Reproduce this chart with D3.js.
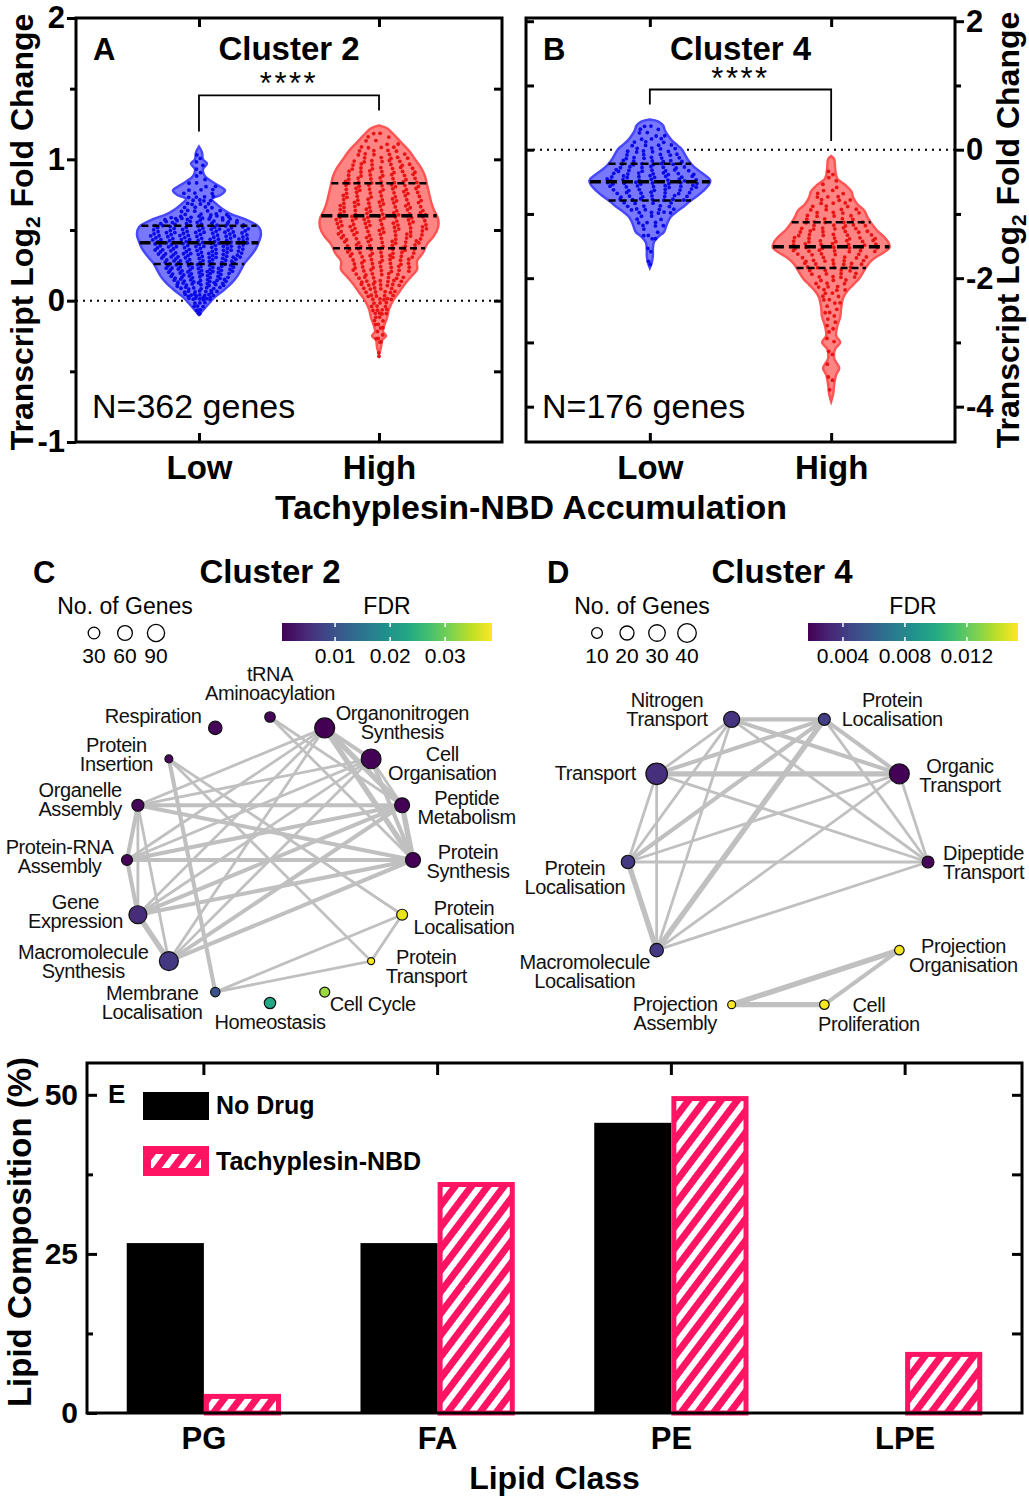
<!DOCTYPE html>
<html>
<head>
<meta charset="utf-8">
<script src="https://cdnjs.cloudflare.com/ajax/libs/d3/7.8.5/d3.min.js"></script>
<style>
  body { margin: 0; background: #fff; }
  svg { display: block; font-family: "Liberation Sans", Arial, sans-serif; }
</style>
</head>
<body>
<div id="fig"></div>
<script>
// ---------- data ----------
const groups = ["Low", "High"];

// violin outlines: [log2 fold change, density (a.u.)]
const c2LowOutline = [[1.09,0],[1.05,3],[1.0,4],[0.97,8],[0.93,4],[0.88,6],[0.82,18],[0.78,26],[0.75,22],[0.72,13],[0.68,18],[0.62,30],[0.57,48],[0.52,60],[0.47,62],[0.42,60],[0.37,57],[0.32,52],[0.27,46],[0.22,42],[0.17,38],[0.12,32],[0.07,24],[0.02,15],[-0.02,10],[-0.06,5],[-0.1,0]];
const c2HighOutline = [[1.24,0],[1.22,8],[1.18,14],[1.12,22],[1.06,30],[1.0,36],[0.94,42],[0.88,46],[0.82,48],[0.76,50],[0.7,52],[0.64,55],[0.58,59],[0.52,59],[0.46,55],[0.4,48],[0.34,44],[0.28,38],[0.22,38],[0.17,32],[0.12,26],[0.06,20],[0.0,14],[-0.06,10],[-0.12,8],[-0.18,5],[-0.22,4],[-0.25,7],[-0.28,3],[-0.33,2],[-0.38,0]];
const c4LowOutline = [[0.47,0],[0.44,8],[0.38,13],[0.3,15],[0.22,18],[0.14,22],[0.06,28],[0.0,32],[-0.08,35],[-0.16,38],[-0.24,42],[-0.32,48],[-0.4,55],[-0.48,60],[-0.56,58],[-0.64,53],[-0.72,47],[-0.8,40],[-0.88,34],[-0.96,27],[-1.04,21],[-1.12,18],[-1.2,16],[-1.28,14],[-1.36,8],[-1.44,4],[-1.55,3],[-1.65,3],[-1.75,2],[-1.84,0]];
const c4HighOutline = [[-0.1,0],[-0.15,3],[-0.3,4],[-0.45,6],[-0.55,14],[-0.65,20],[-0.75,22],[-0.85,26],[-0.95,33],[-1.05,36],[-1.15,40],[-1.25,45],[-1.35,52],[-1.45,57],[-1.52,58],[-1.6,52],[-1.7,42],[-1.8,36],[-1.9,32],[-2.0,28],[-2.1,22],[-2.2,16],[-2.3,12],[-2.45,10],[-2.6,9],[-2.75,6],[-2.9,5],[-3.0,9],[-3.1,4],[-3.25,3],[-3.4,8],[-3.5,5],[-3.65,3],[-3.8,2],[-3.92,0]];

// gene counts per bin: [bin centre, genes]
const c2LowBins = [[1.05,2],[0.95,4],[0.85,6],[0.75,14],[0.65,18],[0.55,52],[0.45,62],[0.35,60],[0.25,52],[0.15,46],[0.05,34],[-0.05,12]];
const c2HighBins = [[1.15,8],[1.05,18],[0.95,26],[0.85,30],[0.75,32],[0.65,36],[0.55,40],[0.45,36],[0.35,32],[0.25,28],[0.15,26],[0.05,20],[-0.05,14],[-0.15,8],[-0.25,6],[-0.35,2]];
const c4LowBins = [[0.3,8],[0.1,14],[-0.1,22],[-0.3,30],[-0.5,36],[-0.7,28],[-0.9,18],[-1.1,10],[-1.3,6],[-1.5,2],[-1.7,2]];
const c4HighBins = [[-0.3,2],[-0.5,4],[-0.7,10],[-0.9,14],[-1.1,18],[-1.3,24],[-1.5,28],[-1.7,22],[-1.9,16],[-2.1,12],[-2.3,8],[-2.5,5],[-2.7,4],[-2.9,3],[-3.1,2],[-3.3,1],[-3.5,2],[-3.7,1]];

// quartiles [Q1, median, Q3]
const c2LowQuart = [0.26, 0.41, 0.53];
const c2HighQuart = [0.37, 0.60, 0.83];
const c4LowQuart = [-0.79, -0.50, -0.22];
const c4HighQuart = [-1.84, -1.51, -1.13];

// enrichment networks (circular order, clockwise)
const c2Terms = ["tRNA|Aminoacylation","Organonitrogen|Synthesis","Cell|Organisation","Peptide|Metabolism","Protein|Synthesis","Protein|Localisation","Protein|Transport","Cell Cycle","Homeostasis","Membrane|Localisation","Macromolecule|Synthesis","Gene|Expression","Protein-RNA|Assembly","Organelle|Assembly","Protein|Insertion","Respiration"];
const c2Genes = [22,132,128,62,62,25,5,19,28,15,116,101,25,33,8,46];
const c2FDR = [0.0008,0.0005,0.0006,0.0006,0.0006,0.0373,0.0383,0.0328,0.0232,0.0099,0.0065,0.005,0.0008,0.001,0.001,0.0009];
const c2Edges = [[0,3,1],[0,4,1],[1,2,2],[1,3,3],[1,4,3],[1,13,1],[1,11,1],[1,10,1],[1,12,1],[2,3,1],[2,4,2],[2,13,1],[2,11,1],[2,10,1],[2,12,1],[3,4,3],[3,13,2],[3,12,2],[3,11,2],[3,10,2],[4,13,2],[4,12,2],[4,11,2],[4,10,2],[5,6,1],[5,9,1],[6,9,1],[5,14,1],[6,14,1],[9,14,2],[11,10,3],[11,13,1],[11,12,2],[13,12,2],[13,10,1]];

const c4Terms = ["Protein|Localisation","Organic|Transport","Dipeptide|Transport","Projection|Organisation","Cell|Proliferation","Projection|Assembly","Macromolecule|Localisation","Protein|Localisation","Transport","Nitrogen|Transport"];
const c4Genes = [13,47,13,7,7,4,18,18,56,28];
const c4FDR = [0.0042,0.0018,0.002,0.0151,0.0152,0.0153,0.004,0.004,0.0036,0.0038];
const c4Edges = [[9,0,2],[9,8,1],[9,1,2],[9,2,1],[9,7,1],[9,6,1],[0,8,2],[0,1,2],[0,2,1],[0,7,2],[0,6,3],[8,1,3],[8,2,1],[8,7,1],[8,6,1],[1,7,1],[1,6,1],[1,2,1],[7,2,1],[7,6,3],[2,6,1],[5,3,3],[5,4,3],[4,3,2]];

// lipid composition (%)
const lipidClasses = ["PG", "FA", "PE", "LPE"];
const treatments = ["No Drug", "Tachyplesin-NBD"];
const noDrug = [26.7, 26.7, 45.6, 0];
const tachyNBD = [3.0, 36.3, 49.8, 9.6];

// ---------- setup ----------
const pink = "#ff1464";
const svg = d3.select("#fig").append("svg").attr("width", 1029).attr("height", 1500);
svg.append("rect").attr("width", 1029).attr("height", 1500).attr("fill", "#fff");
const defs = svg.append("defs");

const hatch = defs.append("pattern").attr("id", "hatch")
    .attr("patternUnits", "userSpaceOnUse")
    .attr("width", 13).attr("height", 13)
    .attr("patternTransform", "rotate(37)");
hatch.append("rect").attr("width", 13).attr("height", 13).attr("fill", pink);
hatch.append("rect").attr("width", 6).attr("height", 13).attr("fill", "#fff");

function styleAxis(sel, size) {
    sel.select(".domain").remove();
    sel.selectAll(".tick line").attr("stroke", "#000").attr("stroke-width", 3);
    sel.selectAll(".tick text").attr("font-size", size).attr("font-weight", "bold")
        .attr("fill", "#000").attr("font-family", "Liberation Sans, Arial, sans-serif");
}

function widthAt(outline, v) {
    for (let i = 0; i < outline.length - 1; i++) {
        const a = outline[i], b = outline[i + 1];
        if (v <= a[0] && v >= b[0]) {
            const t = (a[0] - v) / (a[0] - b[0]);
            return a[1] + t * (b[1] - a[1]);
        }
    }
    return 0;
}

// ---------- violin panels ----------
function drawViolinPanel(p) {
    const g = svg.append("g");
    const top = 18, bottom = 442;
    const x = d3.scalePoint().domain(groups).range([p.left, p.right]).padding(0.683);
    const y = d3.scaleLinear().domain(p.domain).range([bottom, top]);
    const vw = d3.scaleLinear().domain([0, 60]).range([0, x.step() / 3]);

    g.append("line").attr("x1", p.left).attr("x2", p.right)
        .attr("y1", y(0)).attr("y2", y(0))
        .attr("stroke", "#000").attr("stroke-width", 2).attr("stroke-dasharray", "2,5");

    const legEnds = [];
    p.series.forEach(s => {
        const cx = x(s.group);
        const area = d3.area().curve(d3.curveCatmullRom)
            .y(d => y(d[0])).x0(d => cx - vw(d[1])).x1(d => cx + vw(d[1]));
        g.append("path").datum(s.outline).attr("d", area)
            .attr("fill", s.fill).attr("stroke", s.stroke).attr("stroke-width", 2.5);

        const dots = [];
        s.bins.forEach(([c, n]) => {
            for (let k = 0; k < n; k++) {
                const v = c + (((k * 0.7549 + 0.31) % 1) - 0.5) * p.binH;
                const w = vw(widthAt(s.outline, v)) * 0.85;
                const u = ((k * 0.5698 + 0.13) % 1) * 2 - 1;
                dots.push([cx + u * w, y(v)]);
            }
        });
        g.selectAll(null).data(dots).join("circle")
            .attr("cx", d => d[0]).attr("cy", d => d[1]).attr("r", 1.9)
            .attr("fill", s.dot);

        s.quart.forEach((q, i) => {
            const w = vw(widthAt(s.outline, q));
            g.append("line").attr("x1", cx - w).attr("x2", cx + w)
                .attr("y1", y(q)).attr("y2", y(q))
                .attr("stroke", "#000")
                .attr("stroke-width", i === 1 ? 3.5 : 2.5)
                .attr("stroke-dasharray", i === 1 ? "11,5" : "7,4");
        });
        legEnds.push([cx, y(s.outline[0][0]) - 15]);
    });

    // significance bracket
    const by = d3.min(legEnds, d => d[1]) - 15;
    g.append("path")
        .attr("d", `M${legEnds[0][0]},${legEnds[0][1]}V${by}H${legEnds[1][0]}V${legEnds[1][1]}`)
        .attr("fill", "none").attr("stroke", "#000").attr("stroke-width", 1.8);
    g.append("text").attr("x", (legEnds[0][0] + legEnds[1][0]) / 2).attr("y", by - 1)
        .attr("text-anchor", "middle").attr("font-size", 31).attr("letter-spacing", 2.5)
        .text("****");

    // axes
    const side = p.labelSide === "left" ? d3.axisLeft : d3.axisRight;
    const outerX = p.labelSide === "left" ? p.left : p.right;
    const innerX = p.labelSide === "left" ? p.right : p.left;
    g.append("g").attr("transform", `translate(${outerX},0)`)
        .call(side(y).tickValues(p.major).tickSize(9).tickPadding(2).tickFormat(d => String(d)))
        .call(styleAxis, 31);
    g.append("g").attr("transform", `translate(${outerX},0)`)
        .call(side(y).tickValues(p.minor).tickSize(6).tickFormat(""))
        .call(styleAxis, 31);
    g.append("g").attr("transform", `translate(${innerX},0)`)
        .call(side(y).tickValues(p.inner).tickSize(8).tickFormat(""))
        .call(styleAxis, 31);
    g.append("g").attr("transform", `translate(0,${top})`)
        .call(d3.axisBottom(x).tickSize(9).tickFormat(""))
        .call(styleAxis, 31);
    g.append("g").attr("transform", `translate(0,${bottom})`)
        .call(d3.axisTop(x).tickSize(9).tickFormat(""))
        .call(styleAxis, 31);
    g.append("g").attr("transform", `translate(0,${bottom})`)
        .call(d3.axisBottom(x).tickSize(0).tickPadding(14))
        .call(styleAxis, 33);

    g.append("rect").attr("x", p.left).attr("y", top)
        .attr("width", p.right - p.left).attr("height", bottom - top)
        .attr("fill", "none").attr("stroke", "#000").attr("stroke-width", 3);

    g.append("text").attr("x", p.left + 17).attr("y", 60)
        .attr("font-size", 31).attr("font-weight", "bold").text(p.letter);
    g.append("text").attr("x", (p.left + p.right) / 2).attr("y", 60).attr("text-anchor", "middle")
        .attr("font-size", 33).attr("font-weight", "bold").text(p.title);
    g.append("text").attr("x", p.left + 16).attr("y", 418)
        .attr("font-size", 34).text(p.note);

    const t = g.append("text")
        .attr("transform", `translate(${p.titleX},${p.titleY}) rotate(-90)`)
        .attr("text-anchor", "middle").attr("font-size", 32).attr("font-weight", "bold");
    t.append("tspan").text("Transcript Log");
    t.append("tspan").attr("font-size", 21).attr("dy", 7).text("2");
    t.append("tspan").attr("dy", -7).text(" Fold Change");
}

const blue = {fill: "#7878ff", stroke: "#4747ff", dot: "#0a0ae6"};
const red = {fill: "#ff8585", stroke: "#ff5555", dot: "#e81414"};

drawViolinPanel({
    left: 76, right: 502, domain: [-1, 2], binH: 0.1,
    labelSide: "left", major: [-1, 0, 1, 2], minor: [-0.5, 0.5, 1.5],
    inner: [-0.5, 0, 0.5, 1, 1.5],
    letter: "A", title: "Cluster 2", note: "N=362 genes", titleX: 33, titleY: 232,
    series: [
        Object.assign({group: "Low", outline: c2LowOutline, bins: c2LowBins, quart: c2LowQuart}, blue),
        Object.assign({group: "High", outline: c2HighOutline, bins: c2HighBins, quart: c2HighQuart}, red)
    ]
});
drawViolinPanel({
    left: 526, right: 955, domain: [-4.55, 2.05], binH: 0.2,
    labelSide: "right", major: [-4, -2, 0, 2], minor: [-3, -1, 1],
    inner: [-4, -3, -2, -1, 0, 1, 2],
    letter: "B", title: "Cluster 4", note: "N=176 genes", titleX: 1019, titleY: 230,
    series: [
        Object.assign({group: "Low", outline: c4LowOutline, bins: c4LowBins, quart: c4LowQuart}, blue),
        Object.assign({group: "High", outline: c4HighOutline, bins: c4HighBins, quart: c4HighQuart}, red)
    ]
});

svg.append("text").attr("x", 531).attr("y", 519).attr("text-anchor", "middle")
    .attr("font-size", 34).attr("font-weight", "bold").text("Tachyplesin-NBD Accumulation");

// ---------- network panels ----------
function drawNetwork(p) {
    const g = svg.append("g");
    const n = p.terms.length;
    const size = d3.scaleSqrt().domain([0, p.sizeMax]).range(p.sizeRange);
    const color = d3.scaleSequential(d3.interpolateViridis).domain(p.fdrDomain).clamp(true);
    const nodes = p.terms.map((t, i) => {
        const a = p.start + i * 2 * Math.PI / n;
        return {lines: t.split("|"), nudge: p.labelNudge[i],
            x: p.cx + p.R * Math.sin(a), y: p.cy - p.R * Math.cos(a),
            r: size(p.genes[i]), fill: color(p.fdr[i])};
    });

    g.selectAll(null).data(p.edges).join("line")
        .attr("x1", d => nodes[d[0]].x).attr("y1", d => nodes[d[0]].y)
        .attr("x2", d => nodes[d[1]].x).attr("y2", d => nodes[d[1]].y)
        .attr("stroke", "#c0c0c0").attr("stroke-width", d => 1.5 + d[2] * 1.3);

    g.selectAll(null).data(nodes).join("circle")
        .attr("cx", d => d.x).attr("cy", d => d.y).attr("r", d => d.r)
        .attr("fill", d => d.fill).attr("stroke", "#111").attr("stroke-width", 1.2);

    // labels: nudge = [side (-1 left, 0 centred, 1 right), gap to node, vertical shift]
    const fs = 20, lh = 19;
    nodes.forEach(nd => {
        const [side, gap, dy] = nd.nudge;
        const t = g.append("text").attr("font-size", fs).attr("letter-spacing", -0.4)
            .attr("text-anchor", "middle").attr("fill", "#111");
        const spans = nd.lines.map(l => t.append("tspan").attr("x", 0).attr("y", 0).text(l));
        const bw = d3.max(spans, sp => sp.node().getComputedTextLength());
        const bx = side === 0 ? nd.x : nd.x + side * (nd.r + gap + bw / 2);
        const cy = nd.y + dy;
        spans.forEach((sp, i) => sp.attr("x", bx)
            .attr("y", cy + (i - (nd.lines.length - 1) / 2) * lh + 0.35 * fs));
    });

    // titles
    g.append("text").attr("x", p.letterX).attr("y", 583)
        .attr("font-size", 31).attr("font-weight", "bold").text(p.letter);
    g.append("text").attr("x", p.titleX).attr("y", 583).attr("text-anchor", "middle")
        .attr("font-size", 33).attr("font-weight", "bold").text(p.title);

    // size legend
    g.append("text").attr("x", p.sizeLegX + p.sizeLegStep * (p.sizeLeg.length - 1) / 2).attr("y", 614)
        .attr("text-anchor", "middle").attr("font-size", 23).text("No. of Genes");
    p.sizeLeg.forEach((v, i) => {
        const lx = p.sizeLegX + i * p.sizeLegStep;
        g.append("circle").attr("cx", lx).attr("cy", 633).attr("r", size(v))
            .attr("fill", "#fff").attr("stroke", "#000").attr("stroke-width", 1.3);
        g.append("text").attr("x", lx).attr("y", 663).attr("text-anchor", "middle")
            .attr("font-size", 21).text(v);
    });

    // FDR colour bar
    const bx = d3.scaleLinear().domain(p.fdrDomain).range(p.barRange);
    const gid = "grad" + p.letter;
    const grad = defs.append("linearGradient").attr("id", gid);
    d3.range(0, 1.0001, 0.1).forEach(t => grad.append("stop")
        .attr("offset", t).attr("stop-color", d3.interpolateViridis(t)));
    g.append("rect").attr("x", p.barRange[0]).attr("y", 623)
        .attr("width", p.barRange[1] - p.barRange[0]).attr("height", 18)
        .attr("fill", `url(#${gid})`);
    p.barTicks.forEach(v => {
        g.append("line").attr("x1", bx(v)).attr("x2", bx(v)).attr("y1", 623).attr("y2", 627)
            .attr("stroke", "#fff").attr("stroke-width", 1.5);
        g.append("line").attr("x1", bx(v)).attr("x2", bx(v)).attr("y1", 637).attr("y2", 641)
            .attr("stroke", "#fff").attr("stroke-width", 1.5);
        g.append("text").attr("x", bx(v)).attr("y", 663).attr("text-anchor", "middle")
            .attr("font-size", 21).text(String(v));
    });
    g.append("text").attr("x", (p.barRange[0] + p.barRange[1]) / 2).attr("y", 614)
        .attr("text-anchor", "middle").attr("font-size", 23).text("FDR");
}

drawNetwork({
    terms: c2Terms, genes: c2Genes, fdr: c2FDR, edges: c2Edges,
    cx: 270, cy: 860, R: 143, start: 0,
    labelNudge: [[0,0,-34],[1,1,-5.5],[1,7,4.5],[1,8,2.5],[1,6,1],[1,6,2.5],[1,11,5.5],[1,0,12],
                 [0,0,19],[-1,8,10],[-1,11,0],[-1,6,-3],[-1,8,-4],[-1,10,-6],[-1,12,-4.5],[-1,7,-12]],
    sizeMax: 90, sizeRange: [2, 8.6], sizeLeg: [30, 60, 90], sizeLegX: 94, sizeLegStep: 31,
    fdrDomain: [0.00036, 0.0385], barRange: [282, 492], barTicks: [0.01, 0.02, 0.03],
    letter: "C", letterX: 33, title: "Cluster 2", titleX: 270
});
drawNetwork({
    terms: c4Terms, genes: c4Genes, fdr: c4FDR, edges: c4Edges,
    cx: 778, cy: 862, R: 150, start: Math.PI / 10,
    labelNudge: [[1,11.5,-9.5],[1,10,1.5],[1,9,0],[1,5,5],[1,-11,10],
                 [-1,10,9],[-1,0,21],[-1,-4,15.5],[-1,10,-1],[-1,16,-10]],
    sizeMax: 40, sizeRange: [1.5, 9.3], sizeLeg: [10, 20, 30, 40], sizeLegX: 597, sizeLegStep: 30,
    fdrDomain: [0.00174, 0.0153], barRange: [808, 1018], barTicks: [0.004, 0.008, 0.012],
    letter: "D", letterX: 547, title: "Cluster 4", titleX: 782
});

// ---------- lipid bar chart ----------
(function () {
    const g = svg.append("g");
    const left = 87, right = 1022, top = 1063, bottom = 1413;
    const x0 = d3.scaleBand().domain(lipidClasses).range([left, right])
        .paddingInner(0.34).paddingOuter(0.17);
    const x1 = d3.scaleBand().domain(treatments).range([0, x0.bandwidth()]);
    const y = d3.scaleLinear().domain([0, 55]).range([bottom, top]);

    const rows = lipidClasses.map((c, i) => ({cls: c, vals: [noDrug[i], tachyNBD[i]]}));
    const grp = g.selectAll(null).data(rows).join("g")
        .attr("transform", d => `translate(${x0(d.cls)},0)`);
    grp.append("rect")
        .attr("x", x1(treatments[0])).attr("width", x1.bandwidth())
        .attr("y", d => y(d.vals[0])).attr("height", d => y(0) - y(d.vals[0]))
        .attr("fill", "#000");
    grp.filter(d => d.vals[1] > 0).append("rect")
        .attr("x", x1(treatments[1]) + 2.5).attr("width", x1.bandwidth() - 5)
        .attr("y", d => y(d.vals[1]) + 2.5).attr("height", d => y(0) - y(d.vals[1]) - 2.5)
        .attr("fill", "url(#hatch)").attr("stroke", pink).attr("stroke-width", 5);

    g.append("g").attr("transform", `translate(${left},0)`)
        .call(d3.axisLeft(y).tickValues([0, 25, 50]).tickSize(-10).tickPadding(9))
        .call(styleAxis, 30);
    g.append("g").attr("transform", `translate(${left},0)`)
        .call(d3.axisLeft(y).tickValues([12.5, 37.5]).tickSize(-6).tickFormat(""))
        .call(styleAxis, 30);
    g.append("g").attr("transform", `translate(${right},0)`)
        .call(d3.axisLeft(y).tickValues([12.5, 25, 37.5, 50]).tickSize(10).tickFormat(""))
        .call(styleAxis, 30);
    g.append("g").attr("transform", `translate(0,${top})`)
        .call(d3.axisBottom(x0).tickSize(12).tickFormat(""))
        .call(styleAxis, 30);
    g.append("g").attr("transform", `translate(0,${bottom})`)
        .call(d3.axisBottom(x0).tickSize(0).tickPadding(14))
        .call(styleAxis, 31);

    g.append("rect").attr("x", left).attr("y", top)
        .attr("width", right - left).attr("height", bottom - top)
        .attr("fill", "none").attr("stroke", "#000").attr("stroke-width", 3);

    g.append("text").attr("x", 108).attr("y", 1103).attr("font-size", 26)
        .attr("font-weight", "bold").text("E");

    // legend
    g.append("rect").attr("x", 143).attr("y", 1092).attr("width", 66).attr("height", 28).attr("fill", "#000");
    g.append("rect").attr("x", 147).attr("y", 1150).attr("width", 58).attr("height", 22)
        .attr("fill", "url(#hatch)").attr("stroke", pink).attr("stroke-width", 8);
    g.append("text").attr("x", 216).attr("y", 1114).attr("font-size", 25)
        .attr("font-weight", "bold").text(treatments[0]);
    g.append("text").attr("x", 216).attr("y", 1170).attr("font-size", 25)
        .attr("font-weight", "bold").text(treatments[1]);

    g.append("text").attr("transform", `translate(31,1232) rotate(-90)`)
        .attr("text-anchor", "middle").attr("font-size", 33).attr("font-weight", "bold")
        .text("Lipid Composition (%)");
    g.append("text").attr("x", (left + right) / 2).attr("y", 1489).attr("text-anchor", "middle")
        .attr("font-size", 32).attr("font-weight", "bold").text("Lipid Class");
})();
</script>
</body>
</html>
